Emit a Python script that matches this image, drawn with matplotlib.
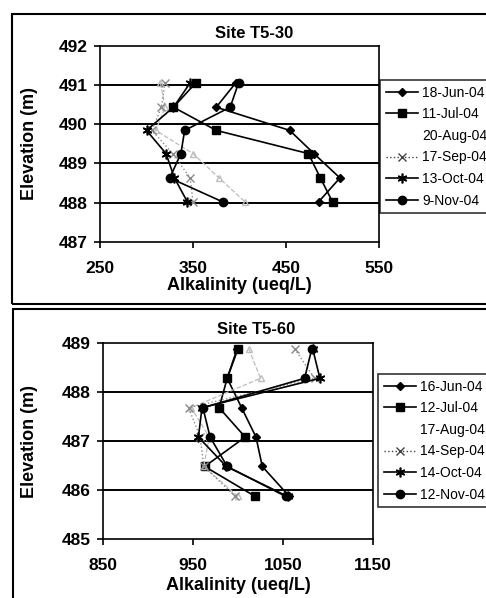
import matplotlib
matplotlib.use('Agg')
import matplotlib.pyplot as plt
from matplotlib.patches import Rectangle

plt.rcParams['font.family'] = ['Liberation Sans', 'DejaVu Sans']

# ---------------- data: Site T5-30 ----------------
t530_elev = [491.05, 490.43, 489.84, 489.25, 488.63, 488.02]
t530_labels = ['18-Jun-04', '11-Jul-04', '20-Aug-04', '17-Sep-04', '13-Oct-04', '9-Nov-04']
t530_s1 = [396, 375, 454, 480, 508, 485]
t530_s2 = [353, 329, 375, 474, 487, 500]
t530_s3 = [315, 320, 310, 350, 378, 406]
t530_s4 = [320, 316, 306, 328, 347, 350]
t530_s5 = [347, 329, 300, 321, 330, 344]
t530_s6 = [399, 390, 341, 337, 325, 382]
t530_xticks = [250, 350, 450, 550]
t530_yticks = [487, 488, 489, 490, 491, 492]

# ---------------- data: Site T5-60 ----------------
t560_elev = [488.88, 488.28, 487.68, 487.08, 486.48, 485.87]
t560_labels = ['16-Jun-04', '12-Jul-04', '17-Aug-04', '14-Sep-04', '14-Oct-04', '12-Nov-04']
t560_s1 = [999, 988, 1004, 1020, 1027, 1057]
t560_s2 = [1000, 988, 979, 1008, 963, 1019]
t560_s3 = [1012, 1025, 948, 968, 962, 1000]
t560_s4 = [1063, 1085, 945, 958, 962, 997]
t560_s5 = [1083, 1091, 960, 956, 987, 1055]
t560_s6 = [1082, 1074, 961, 969, 988, 1053]
t560_xticks = [850, 950, 1050, 1150]
t560_yticks = [485, 486, 487, 488, 489]

styles = [
    dict(color='black', ls='-', lw=1.2, marker='D', ms=4.5),
    dict(color='black', ls='-', lw=1.2, marker='s', ms=5.5),
    dict(color='#bdbdbd', ls='--', lw=0.9, marker='^', ms=4, mfc='none'),
    dict(color='#8a8a8a', ls=':', lw=1.0, marker='x', ms=5.5),
    dict(color='black', ls='-', lw=1.2, marker=(6, 2, 0), ms=7, mew=1.2),
    dict(color='black', ls='-', lw=1.2, marker='o', ms=6),
]

W, H = 486, 598
fig = plt.figure(figsize=(W / 100, H / 100), dpi=100)


def fx(px):
    return px / W


def fy(py):
    return 1 - py / H


def panel(rect, elev, series, labels, xticks, yticks, title, title_xy, xlabel_y, leg_xy):
    l, r, t, b = rect
    ax = fig.add_axes([fx(l), fy(b), fx(r - l), fy(t) - fy(b)])
    for vals, lab, st in zip(series, labels, styles):
        ax.plot(vals, elev, label=lab, clip_on=False, zorder=3, **st)
    ax.set_xlim(xticks[0], xticks[-1])
    ax.set_ylim(yticks[0], yticks[-1])
    ax.set_xticks(xticks)
    ax.set_yticks(yticks)
    for yv in yticks[1:-1]:
        ax.axhline(yv, color='black', lw=1.4, zorder=1)
    for s in ax.spines.values():
        s.set_linewidth(1.2)
    ax.tick_params(axis='both', direction='out', length=4, width=1.2,
                   labelsize=12.5)
    ax.tick_params(axis='y', pad=5)
    ax.tick_params(axis='x', pad=10)
    for lbl in ax.get_xticklabels() + ax.get_yticklabels():
        lbl.set_fontweight('bold')
    fig.text(fx(30), fy((t + b) / 2), 'Elevation (m)', ha='center', va='center',
             rotation=90, fontsize=13, fontweight='bold')
    fig.text(fx((l + r) / 2), fy(xlabel_y), 'Alkalinity (ueq/L)', ha='center',
             va='center', fontsize=13, fontweight='bold')
    fig.text(fx(title_xy[0]), fy(title_xy[1]), title, ha='center', va='center',
             fontsize=12, fontweight='bold')
    leg = ax.legend(loc='upper left', bbox_to_anchor=(fx(leg_xy[0]), fy(leg_xy[1])),
                    bbox_transform=fig.transFigure, borderaxespad=0,
                    frameon=True, fancybox=False, edgecolor='black',
                    fontsize=10, handlelength=2.3, handletextpad=0.35,
                    labelspacing=0.55, borderpad=0.4)
    leg.get_frame().set_linewidth(1.2)
    leg.legend_handles[2].set_visible(False)
    leg.legend_handles[3].set_color('#444444')
    return ax


panel((100, 379, 45.5, 242), t530_elev,
      [t530_s1, t530_s2, t530_s3, t530_s4, t530_s5, t530_s6], t530_labels,
      t530_xticks, t530_yticks, 'Site T5-30', (253.7, 33), 285, (380, 80))

panel((103, 373, 343, 539), t560_elev,
      [t560_s1, t560_s2, t560_s3, t560_s4, t560_s5, t560_s6], t560_labels,
      t560_xticks, t560_yticks, 'Site T5-60', (256, 329), 585, (378, 374))

# outer chart-area borders
fig.add_artist(Rectangle((fx(12), fy(304)), fx(500 - 12), (304 - 14) / H,
                         transform=fig.transFigure, fill=False, ec='black',
                         lw=1.5, clip_on=False))
fig.add_artist(Rectangle((fx(13), fy(620)), fx(500 - 13), (620 - 309) / H,
                         transform=fig.transFigure, fill=False, ec='black',
                         lw=1.5, clip_on=False))

fig.savefig('out.png', dpi=100)
